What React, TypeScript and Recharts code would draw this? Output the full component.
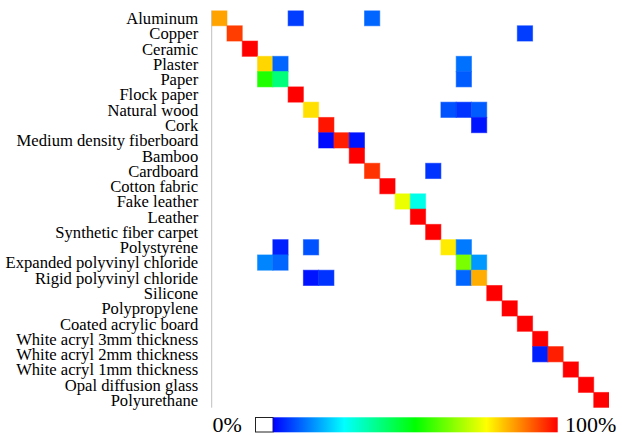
import { ScatterChart, Scatter, XAxis, YAxis } from 'recharts';

const materials = [
  'Aluminum',
  'Copper',
  'Ceramic',
  'Plaster',
  'Paper',
  'Flock paper',
  'Natural wood',
  'Cork',
  'Medium density fiberboard',
  'Bamboo',
  'Cardboard',
  'Cotton fabric',
  'Fake leather',
  'Leather',
  'Synthetic fiber carpet',
  'Polystyrene',
  'Expanded polyvinyl chloride',
  'Rigid polyvinyl chloride',
  'Silicone',
  'Polypropylene',
  'Coated acrylic board',
  'White acryl 3mm thickness',
  'White acryl 2mm thickness',
  'White acryl 1mm thickness',
  'Opal diffusion glass',
  'Polyurethane',
];

// non-empty cells of the confusion matrix (row = true material, col = predicted)
const cellRow = [0, 0, 0, 1, 1, 2, 3, 3, 3, 4, 4, 4, 5, 6, 6, 6, 6, 7, 7, 8, 8, 8, 9, 10, 10, 11, 12, 12, 13, 14, 15, 15, 15, 15, 16, 16, 16, 16, 17, 17, 17, 17, 18, 19, 20, 21, 22, 22, 23, 24, 25];
const cellCol = [0, 5, 10, 1, 20, 2, 3, 4, 16, 3, 4, 16, 5, 6, 15, 16, 17, 7, 17, 7, 8, 9, 9, 10, 14, 11, 12, 13, 13, 14, 4, 6, 15, 16, 3, 4, 16, 17, 6, 7, 16, 17, 18, 19, 20, 21, 21, 22, 23, 24, 25];
const cellValue = [
  0.84, 0.06, 0.1,
  0.94, 0.06,
  1.0,
  0.79, 0.1, 0.11,
  0.53, 0.38, 0.09,
  1.0,
  0.78, 0.08, 0.05, 0.09,
  0.98, 0.02,
  0.01, 0.97, 0.02,
  1.0,
  0.95, 0.05,
  1.0,
  0.73, 0.27,
  1.0,
  1.0,
  0.03, 0.08, 0.77, 0.12,
  0.13, 0.1, 0.62, 0.15,
  0.02, 0.05, 0.1, 0.83,
  1.0, 1.0, 1.0, 1.0,
  0.03, 0.97,
  1.0, 1.0, 1.0,
];

const W = 622;
const H = 437;
const MARGIN = { top: 10.5, right: 13, bottom: 29.3, left: 0 };
const Y_AXIS_W = 211.7;
const N = materials.length;
const CELL = (W - MARGIN.left - MARGIN.right - Y_AXIS_W) / N;

const data = cellRow.map((r, i) => ({
  x: cellCol[i] + 0.5,
  y: r + 0.5,
  value: cellValue[i],
}));

// hue runs from blue (0) to red (1)
const colorFor = (v: number) => `hsl(${240 * (1 - v)}, 100%, 50%)`;

const CellShape = (props: any) => {
  const { cx, cy, payload } = props;
  const c = colorFor(payload.value);
  return (
    <rect
      x={cx - CELL / 2}
      y={cy - CELL / 2}
      width={CELL}
      height={CELL}
      fill={c}
      stroke={c}
      strokeOpacity={0.55}
      strokeWidth={1}
    />
  );
};

const ticks = materials.map((_, i) => i + 0.5);
const serif = '"Liberation Serif", "Times New Roman", serif';

function ColorBar() {
  return (
    <svg width={W} height={H} style={{ position: 'absolute', left: 0, top: 0, pointerEvents: 'none' }}>
      <defs>
        <linearGradient id="jet" x1="0" x2="1" y1="0" y2="0">
          <stop offset="0" stopColor="#0000ff" />
          <stop offset="0.25" stopColor="#00ffff" />
          <stop offset="0.5" stopColor="#00ff00" />
          <stop offset="0.75" stopColor="#ffff00" />
          <stop offset="1" stopColor="#ff0000" />
        </linearGradient>
      </defs>
      <text x={212.5} y={432} fontFamily={serif} fontSize={22} fill="#000">0%</text>
      <rect x={255.5} y={417.5} width={17.5} height={14.5} fill="#fff" stroke="#222" strokeWidth={1} />
      <rect x={273} y={417.3} width={284.7} height={15} fill="url(#jet)" />
      <text x={565} y={432} fontFamily={serif} fontSize={22} fill="#000">100%</text>
    </svg>
  );
}

export default function App() {
  return (
    <div style={{ position: 'absolute', left: 0, top: 0, width: W, height: H, background: '#fff' }}>
      <ScatterChart width={W} height={H} margin={MARGIN}>
        <XAxis
          type="number"
          dataKey="x"
          domain={[0, N]}
          orientation="top"
          height={0}
          tick={false}
          tickLine={false}
          axisLine={{ stroke: '#bfbfbf' }}
          allowDataOverflow
        />
        <YAxis
          type="number"
          dataKey="y"
          domain={[0, N]}
          reversed
          width={Y_AXIS_W}
          ticks={ticks}
          interval={0}
          tickLine={false}
          tickMargin={7.5}
          axisLine={{ stroke: '#bfbfbf' }}
          tickFormatter={(v: number) => materials[Math.floor(v)]}
          tick={{ fontFamily: serif, fontSize: 16.6, fill: '#000' }}
          allowDataOverflow
        />
        <Scatter data={data} shape={CellShape} isAnimationActive={false} />
      </ScatterChart>
      <ColorBar />
    </div>
  );
}
